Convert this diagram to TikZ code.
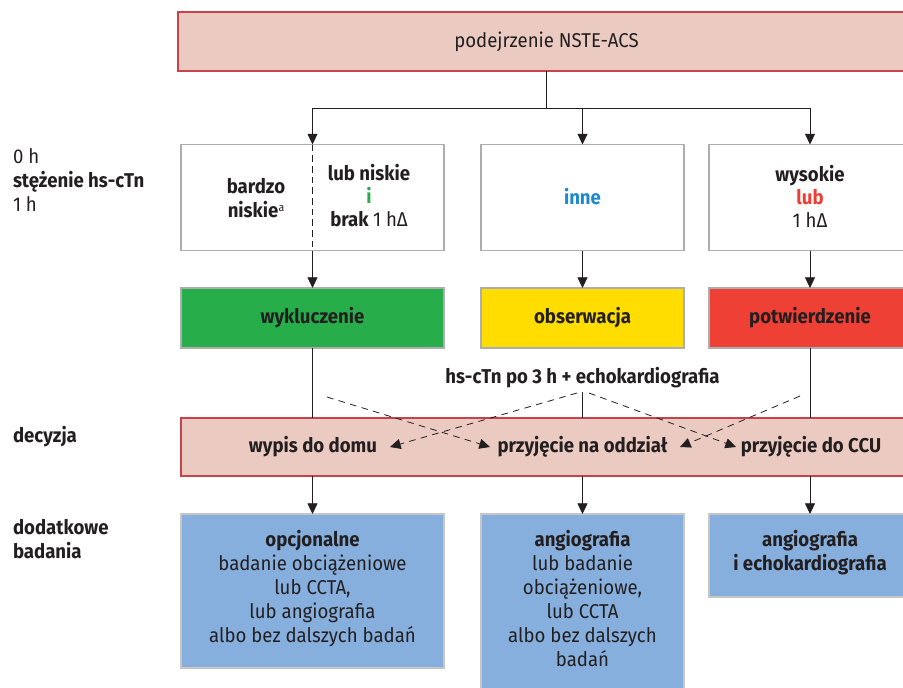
\documentclass[tikz,border=0pt]{standalone}
\usepackage{fontspec}
\setmainfont{Fira Sans}[FakeStretch=0.93]
\usetikzlibrary{arrows.meta}
\definecolor{txt}{HTML}{231F20}
\definecolor{pinkf}{HTML}{EBCBC1}
\definecolor{pinkd}{HTML}{C8414B}
\definecolor{grayd}{HTML}{ADADAD}
\definecolor{greenf}{HTML}{27AE4B}
\definecolor{yellowf}{HTML}{FFDD00}
\definecolor{redf}{HTML}{EE4035}
\definecolor{bluef}{HTML}{86AFDD}
\definecolor{itxt}{HTML}{2BAA4A}
\definecolor{innetxt}{HTML}{1E88CC}
\definecolor{lubtxt}{HTML}{EE3E36}
\newcommand{\fsz}{\fontsize{15pt}{18pt}\selectfont}
\tikzset{
  every node/.style={text=txt,font=\fsz,inner sep=0pt,outer sep=0pt},
  bnode/.style={font=\fsz\bfseries},
  pinkbox/.style={draw=pinkd,fill=pinkf,line width=0.8pt},
  whitebox/.style={draw=grayd,fill=white,line width=0.8pt},
  colbox/.style={draw=grayd,line width=0.8pt},
  bluebox/.style={draw=grayd!70,fill=bluef,line width=0.8pt},
  lbl/.style={align=center},
  conn/.style={draw=txt,line width=0.6pt},
  arr/.style={conn,-{Triangle[length=8pt,width=7.5pt]}},
  darr/.style={arr,dash pattern=on 5pt off 4pt},
}
\begin{document}
\begin{tikzpicture}[x=0.75pt,y=-0.75pt]
\useasboundingbox (0,0) rectangle (903,687);
% top
\node[pinkbox,minimum width=552.75pt,minimum height=44.25pt] (top) at (546.5,41.5) {};
\node (toptxt) at (546.5,41.5) {podejrzenie NSTE-ACS};
% row 2
\node[whitebox,minimum width=197.25pt,minimum height=79.5pt] (b1) at (312.5,197.5) {};
\node[whitebox,minimum width=152.25pt,minimum height=79.5pt] (b2) at (582.5,197.5) {};
\node[whitebox,minimum width=151.5pt,minimum height=79.5pt] (b3) at (810,197.5) {};
\node[lbl,bnode] (b1a) at (256,198) {bardzo\\niskie{\mdseries\fontsize{8.5pt}{8.5pt}\selectfont\raisebox{0.5em}{a}}};
\node[lbl,font=\fontsize{15pt}{17.25pt}\selectfont\bfseries] (b1b) at (369,196) {lub niskie\\\textcolor{itxt}{i}\\brak {\mdseries 1 hΔ}};
\node[lbl,bnode,text=innetxt] (b2t) at (582.5,197) {inne};
\node[lbl,font=\fontsize{15pt}{17.25pt}\selectfont] (b3t) at (810,196) {\textbf{wysokie}\\\textcolor{lubtxt}{\textbf{lub}}\\1 hΔ};
% row 3
\node[colbox,fill=greenf,minimum width=197.25pt,minimum height=45pt] (c1) at (312.5,318) {};
\node[colbox,fill=yellowf,minimum width=152.25pt,minimum height=45pt] (c2) at (582.5,318) {};
\node[colbox,fill=redf,minimum width=151.5pt,minimum height=45pt] (c3) at (810,318) {};
\node[bnode] (c1t) at (312.5,318) {wykluczenie};
\node[bnode] (c2t) at (582.5,318) {obserwacja};
\node[bnode] (c3t) at (810,318) {potwierdzenie};
\node[bnode] (mid) at (582.5,378) {hs-cTn po 3 h + echokardiografia};
% decision
\node[pinkbox,minimum width=550.5pt,minimum height=43.5pt] (dec) at (548,447) {};
\node[bnode] (d1) at (313,447) {wypis do domu};
\node[bnode] (d2) at (582.5,447) {przyjęcie na oddział};
\node[bnode] (d3) at (811,447) {przyjęcie do CCU};
% blue
\node[bluebox,minimum width=197.25pt,minimum height=115.5pt] (e1) at (312.5,591) {};
\node[bluebox,minimum width=152.25pt,minimum height=139.5pt] (e2) at (582.5,607) {};
\node[bluebox,minimum width=151.5pt,minimum height=62.25pt] (e3) at (810,555.5) {};
\node[lbl,anchor=north] (e1t) at (312.5,530) {\textbf{opcjonalne}\\badanie obciążeniowe\\lub CCTA,\\lub angiografia\\albo bez dalszych badań};
\node[lbl,anchor=north] (e2t) at (582.5,530) {\textbf{angiografia}\\lub badanie\\obciążeniowe,\\lub CCTA\\albo bez dalszych\\badań};
\node[lbl,anchor=north,bnode] (e3t) at (810,530) {angiografia\\i echokardiografia};
% left labels
\node[anchor=west,align=left] (l1) at (13,180) {0 h\\\textbf{stężenie hs-cTn}\\1 h};
\node[anchor=west,bnode] (l2) at (13,437) {decyzja};
\node[anchor=west,align=left,bnode] (l3) at (13,539) {dodatkowe\\badania};
% connectors
\coordinate (j0) at (546.5,108);
\coordinate (j1) at (312.5,108);
\coordinate (j2) at (582.5,108);
\coordinate (j3) at (810,108);
\draw[conn] (top.south -| j0) -- (j0);
\draw[conn] (j1) -- (j3);
\draw[arr] (j1) -- (b1.north);
\draw[arr] (j2) -- (b2.north);
\draw[arr] (j3) -- (b3.north);
\draw[conn,dash pattern=on 5pt off 3pt] (b1.north) -- (b1.south);
\draw[arr] (b1.south) -- (c1.north);
\draw[arr] (b2.south) -- (c2.north);
\draw[arr] (b3.south) -- (c3.north);
\draw[conn] (c1.south) -- (c1.south |- dec.north);
\draw[conn] (c3.south) -- (c3.south |- dec.north);
\coordinate (m0) at (582.5,392);
\draw[conn] (m0) -- (m0 |- dec.north);
\draw[arr] (dec.south -| e1.north) -- (e1.north);
\draw[arr] (dec.south -| e2.north) -- (e2.north);
\draw[arr] (dec.south -| e3.north) -- (e3.north);
\coordinate (sA) at (327,397);
\coordinate (sB) at (577,393);
\coordinate (sC) at (589,393);
\coordinate (sD) at (800,396);
\coordinate (tA) at (490,447);
\coordinate (tB) at (390,447);
\coordinate (tC) at (736,447);
\coordinate (tD) at (680,447);
\draw[darr] (sA) -- (tA);
\draw[darr] (sB) -- (tB);
\draw[darr] (sC) -- (tC);
\draw[darr] (sD) -- (tD);
\end{tikzpicture}
\end{document}
